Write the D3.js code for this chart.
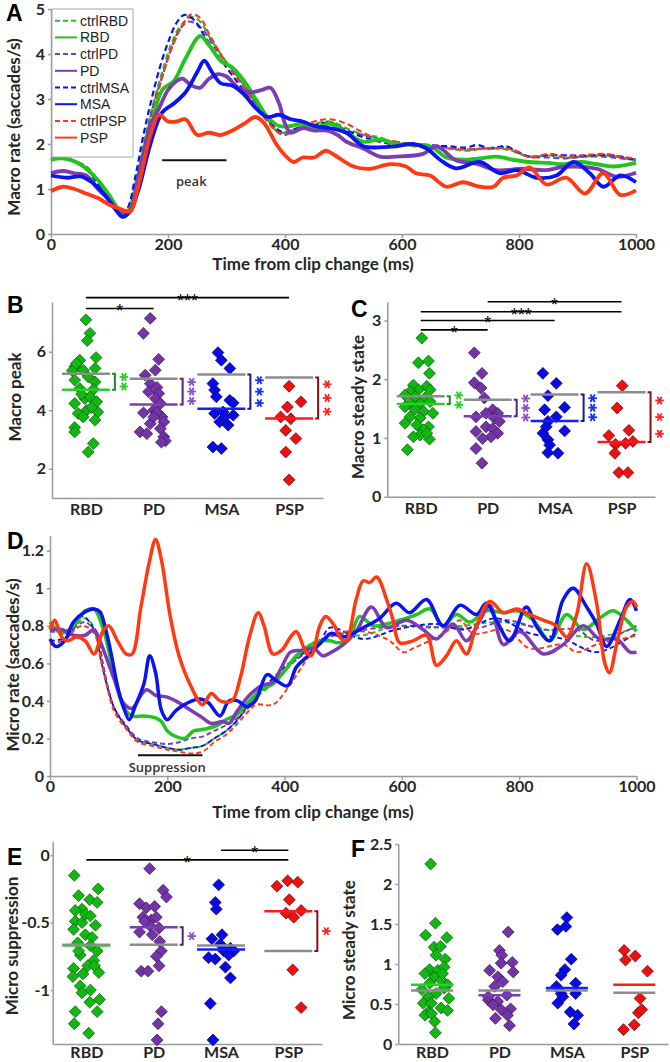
<!DOCTYPE html>
<html>
<head>
<meta charset="UTF-8">
<script src="https://d3js.org/d3.v7.min.js"></script>
<style>
  body { margin: 0; background: #fff; }
  svg { display: block; }
  text { font-family: Lato, 'Open Sans', sans-serif; }
  .tick text { font-weight: bold; font-size: 16px; fill: #262626; }
  .domain, .tick line { stroke: #9a9a9a; stroke-width: 1.5; }
  .atitle { font-weight: bold; font-size: 17px; fill: #262626; }
  .plabel { font-family: 'Liberation Sans', Arial, sans-serif; font-weight: bold; font-size: 23px; fill: #000; }
  .legend text { font-family: 'Liberation Sans', Arial, sans-serif; font-size: 14px; fill: #222; }
  .note { font-family: 'Open Sans', sans-serif; font-weight: 600; font-size: 13px; fill: #333; }
  .sig { font-family: 'Liberation Sans', Arial, sans-serif; font-size: 18px; fill: #000; }
</style>
</head>
<body>
<svg id="fig" width="670" height="1062"></svg>
<script>
// ---------- data ----------
const groups = ['RBD', 'PD', 'MSA', 'PSP']
const timeTicks = [0, 200, 400, 600, 800, 1000]

// panel A: macro rate, [time ms, saccades/s]
const ctrlRBD_A = [[0,1.7],[20,1.72],[40,1.62],[60,1.5],[80,1.2],[100,0.8],[118,0.5],[130,0.55],[145,1.2],[160,2.1],[175,2.9],[190,3.6],[205,4.2],[220,4.6],[240,4.82],[255,4.72],[270,4.4],[290,4.0],[310,3.65],[330,3.3],[350,2.9],[370,2.55],[390,2.25],[410,2.3],[430,2.4],[450,2.45],[477,2.5],[505,2.35],[534,2.2],[562,2.15],[590,2.0],[620,1.98],[648,1.95],[680,1.9],[710,1.85],[740,1.9],[778,1.88],[818,1.72],[850,1.75],[880,1.7],[910,1.72],[944,1.75],[975,1.7],[1000,1.62]]
const ctrlPD_A = [[0,1.65],[20,1.7],[40,1.6],[60,1.45],[80,1.15],[100,0.8],[118,0.45],[130,0.5],[145,1.15],[160,2.0],[175,2.85],[190,3.5],[205,4.1],[220,4.55],[235,4.72],[250,4.65],[265,4.45],[280,4.15],[300,3.8],[320,3.45],[340,3.1],[360,2.75],[380,2.4],[395,2.2],[410,2.25],[430,2.35],[450,2.4],[477,2.45],[505,2.3],[534,2.2],[562,2.1],[590,2.05],[620,2.0],[648,1.98],[680,1.92],[710,1.88],[740,1.9],[778,1.92],[818,1.72],[850,1.7],[880,1.68],[910,1.72],[944,1.72],[975,1.68],[1000,1.65]]
const ctrlMSA_A = [[0,1.65],[20,1.68],[40,1.6],[60,1.45],[80,1.1],[100,0.75],[118,0.45],[130,0.55],[143,1.2],[158,2.2],[172,3.0],[186,3.7],[200,4.25],[215,4.7],[228,4.87],[245,4.75],[260,4.45],[280,4.05],[300,3.7],[320,3.35],[340,3.0],[360,2.7],[380,2.4],[400,2.25],[420,2.35],[440,2.4],[460,2.45],[477,2.48],[505,2.3],[534,2.15],[562,2.05],[590,1.98],[620,1.97],[648,1.95],[680,1.95],[710,1.92],[728,1.98],[750,1.9],[778,1.95],[800,1.8],[818,1.72],[850,1.75],[876,1.75],[910,1.74],[944,1.76],[975,1.72],[1000,1.64]]
const ctrlPSP_A = [[0,1.78],[20,1.75],[40,1.62],[60,1.5],[80,1.2],[100,0.8],[120,0.5],[135,0.6],[150,1.3],[165,2.2],[180,3.0],[195,3.7],[210,4.25],[225,4.65],[240,4.88],[255,4.8],[270,4.45],[290,4.0],[310,3.6],[330,3.25],[350,2.85],[370,2.5],[390,2.25],[410,2.25],[430,2.4],[450,2.5],[477,2.55],[505,2.45],[534,2.25],[562,2.1],[590,2.05],[620,1.95],[648,1.93],[680,1.9],[710,1.88],[740,1.9],[778,1.9],[800,1.82],[818,1.7],[850,1.78],[880,1.72],[910,1.75],[944,1.78],[975,1.72],[1000,1.67]]
const RBD_A = [[0,1.65],[20,1.68],[50,1.55],[80,1.2],[100,0.85],[120,0.5],[135,0.55],[150,1.2],[170,2.3],[190,3.2],[210,3.4],[230,3.9],[255,4.4],[270,4.2],[290,3.85],[310,3.7],[330,3.4],[350,3.0],[370,2.6],[390,2.4],[410,2.4],[430,2.45],[450,2.35],[477,2.45],[505,2.25],[534,2.05],[562,2.1],[590,2.0],[648,1.95],[676,1.7],[704,1.65],[733,1.68],[761,1.72],[790,1.65],[818,1.6],[850,1.58],[876,1.55],[905,1.6],[933,1.55],[961,1.5],[1000,1.58]]
const PD_A = [[0,1.35],[20,1.4],[40,1.35],[60,1.3],[80,1.0],[100,0.75],[120,0.45],[135,0.5],[150,1.3],[170,2.4],[185,2.8],[200,3.2],[215,3.4],[225,3.45],[240,3.3],[255,3.25],[270,3.45],[285,3.55],[300,3.5],[320,3.25],[340,3.15],[360,3.2],[375,3.25],[390,2.9],[400,2.45],[410,2.25],[430,2.35],[450,2.3],[470,2.3],[490,2.2],[505,2.05],[534,1.9],[562,1.72],[590,1.72],[636,1.78],[659,1.95],[692,1.64],[728,1.56],[761,1.42],[806,1.45],[847,1.42],[876,1.49],[933,1.45],[967,1.27],[1000,1.36]]
const MSA_A = [[0,1.3],[30,1.25],[50,1.28],[70,1.15],[90,0.9],[110,0.55],[122,0.38],[135,0.5],[150,1.0],[170,2.0],[190,2.7],[210,2.9],[230,3.15],[250,3.6],[262,3.85],[275,3.6],[290,3.35],[310,3.3],[330,3.1],[350,2.8],[370,2.6],[390,2.65],[410,2.55],[430,2.5],[450,2.4],[477,2.35],[505,2.25],[534,1.95],[568,1.93],[590,1.95],[619,2.0],[642,1.9],[665,1.65],[692,1.46],[733,1.6],[767,1.35],[796,1.42],[830,1.25],[864,1.3],[893,1.6],[921,1.35],[944,1.05],[973,1.3],[1000,1.15]]
const PSP_A = [[0,0.95],[20,1.05],[40,1.0],[60,0.9],[80,0.8],[100,0.65],[120,0.55],[135,0.5],[150,1.1],[170,2.2],[185,2.65],[200,2.5],[215,2.5],[230,2.55],[250,2.2],[270,2.25],[290,2.2],[310,2.3],[330,2.45],[350,2.6],[365,2.45],[385,2.0],[400,1.75],[415,1.6],[430,1.7],[450,1.7],[470,1.85],[485,1.75],[517,1.5],[545,1.45],[579,1.55],[607,1.5],[624,1.35],[648,1.3],[676,1.05],[704,1.15],[733,1.05],[756,1.05],[773,1.25],[796,1.3],[818,1.48],[847,1.1],[881,1.25],[913,0.9],[944,1.35],[973,0.87],[1000,0.97]]

// panel D: micro rate
const ctrlRBD_D = [[0,0.78],[30,0.76],[60,0.84],[80,0.76],[90,0.6],[100,0.45],[110,0.35],[130,0.26],[150,0.19],[175,0.17],[200,0.15],[220,0.14],[240,0.15],[260,0.16],[280,0.2],[300,0.24],[320,0.3],[340,0.38],[360,0.44],[380,0.49],[400,0.56],[420,0.62],[440,0.67],[460,0.71],[477,0.75],[534,0.75],[590,0.8],[647,0.79],[704,0.8],[761,0.82],[818,0.8],[875,0.76],[932,0.74],[1000,0.79]]
const ctrlPD_D = [[0,0.77],[30,0.77],[60,0.82],[80,0.74],[90,0.6],[100,0.46],[110,0.36],[130,0.27],[150,0.2],[175,0.18],[200,0.17],[220,0.18],[240,0.2],[260,0.21],[280,0.24],[300,0.27],[320,0.31],[340,0.37],[360,0.45],[380,0.5],[400,0.56],[420,0.62],[440,0.66],[460,0.7],[477,0.74],[562,0.79],[619,0.8],[676,0.79],[733,0.79],[778,0.83],[841,0.78],[898,0.78],[932,0.72],[1000,0.8]]
const ctrlMSA_D = [[0,0.72],[30,0.74],[55,0.85],[75,0.78],[88,0.6],[100,0.45],[110,0.36],[130,0.26],[150,0.19],[175,0.17],[200,0.15],[220,0.14],[240,0.15],[260,0.16],[280,0.2],[300,0.24],[320,0.3],[340,0.39],[360,0.46],[380,0.52],[400,0.58],[420,0.63],[440,0.67],[460,0.71],[477,0.79],[534,0.73],[590,0.78],[659,0.81],[704,0.78],[761,0.84],[818,0.76],[875,0.73],[932,0.66],[989,0.74],[1000,0.76]]
const ctrlPSP_D = [[0,0.7],[20,0.72],[55,0.8],[75,0.76],[88,0.6],[100,0.44],[110,0.34],[130,0.25],[150,0.18],[175,0.16],[200,0.14],[220,0.13],[240,0.12],[260,0.13],[280,0.18],[300,0.22],[320,0.28],[340,0.35],[352,0.38],[380,0.38],[408,0.48],[425,0.56],[440,0.63],[460,0.7],[477,0.75],[534,0.77],[579,0.72],[602,0.66],[619,0.68],[647,0.72],[676,0.77],[699,0.83],[721,0.76],[778,0.78],[818,0.68],[875,0.7],[898,0.66],[932,0.7],[989,0.74],[1000,0.75]]
const RBD_D = [[0,0.82],[20,0.76],[40,0.8],[60,0.88],[75,0.89],[90,0.79],[100,0.67],[110,0.53],[125,0.37],[140,0.32],[160,0.32],[180,0.31],[190,0.29],[200,0.24],[215,0.21],[230,0.2],[245,0.24],[265,0.25],[285,0.27],[300,0.3],[320,0.33],[340,0.4],[360,0.46],[380,0.49],[400,0.56],[420,0.64],[440,0.69],[460,0.72],[477,0.72],[494,0.71],[511,0.74],[528,0.85],[551,0.8],[574,0.81],[596,0.83],[625,0.86],[648,0.89],[670,0.8],[693,0.86],[716,0.82],[744,0.88],[773,0.87],[796,0.88],[824,0.83],[852,0.72],[881,0.86],[909,0.78],[937,0.84],[960,0.88],[983,0.83],[1000,0.77]]
const PD_D = [[0,0.78],[20,0.78],[40,0.75],[60,0.75],[75,0.78],[85,0.72],[95,0.64],[110,0.51],[125,0.39],[140,0.36],[155,0.43],[165,0.46],[180,0.43],[200,0.42],[220,0.39],[240,0.35],[260,0.31],[275,0.28],[295,0.29],[305,0.28],[320,0.35],[340,0.43],[360,0.48],[380,0.5],[395,0.58],[410,0.66],[430,0.67],[450,0.68],[465,0.64],[480,0.66],[500,0.7],[522,0.77],[548,0.9],[574,0.79],[608,0.83],[636,0.78],[659,0.73],[687,0.81],[710,0.72],[733,0.83],[750,0.91],[773,0.7],[801,0.77],[841,0.65],[875,0.7],[909,0.8],[937,0.73],[966,0.73],[989,0.66],[1000,0.66]]
const MSA_D = [[0,0.73],[10,0.69],[25,0.72],[40,0.82],[60,0.875],[75,0.89],[85,0.875],[95,0.78],[105,0.64],[115,0.48],[125,0.37],[135,0.3],[145,0.37],[160,0.49],[170,0.64],[180,0.55],[190,0.35],[200,0.3],[215,0.35],[235,0.39],[255,0.41],[270,0.39],[290,0.32],[305,0.4],[320,0.4],[335,0.37],[350,0.4],[370,0.54],[385,0.51],[405,0.48],[420,0.58],[440,0.64],[465,0.72],[480,0.76],[500,0.74],[534,0.79],[562,0.84],[590,0.92],[613,0.87],[642,0.94],[670,0.8],[699,0.91],[727,0.86],[744,0.92],[761,0.83],[784,0.72],[812,0.9],[829,0.8],[852,0.72],[875,0.94],[892,1.0],[915,0.9],[932,0.81],[949,0.69],[972,0.83],[989,0.94],[1000,0.88]]
const PSP_D = [[0,0.78],[8,0.83],[20,0.74],[30,0.72],[45,0.74],[60,0.72],[75,0.65],[90,0.77],[100,0.8],[115,0.72],[130,0.65],[140,0.65],[155,0.9],[170,1.15],[180,1.26],[190,1.15],[205,0.85],[220,0.64],[240,0.48],[260,0.38],[275,0.44],[290,0.4],[310,0.4],[325,0.53],[340,0.74],[355,0.87],[365,0.8],[380,0.65],[395,0.67],[410,0.74],[420,0.77],[435,0.67],[445,0.64],[460,0.8],[470,0.85],[485,0.8],[494,0.74],[505,0.72],[522,0.94],[534,1.04],[545,1.03],[557,1.06],[574,0.94],[585,0.83],[596,0.71],[619,0.72],[642,0.75],[659,0.59],[676,0.64],[693,0.72],[710,0.65],[727,0.8],[750,0.93],[773,0.87],[796,0.89],[818,0.86],[841,0.83],[864,0.8],[881,0.74],[898,0.86],[915,1.13],[932,0.92],[946,0.6],[954,0.55],[966,0.7],[983,0.9],[994,0.93],[1000,0.9]]

// panel B: macro peak per subject (values + horizontal jitter in category steps)
const B_RBD = [7.09,6.63,6.38,5.49,5.71,5.8,5.03,5.37,5.43,5.35,5.14,4.97,4.74,4.71,4.23,4.4,4.46,4.29,3.89,4.0,3.94,3.66,3.41,3.26,2.86,2.57,3.77,5.6,4.55,4.1]
const B_RBD_jit = [0,0.06,0.02,-0.165,-0.09,0.15,-0.165,-0.04,0.135,-0.2,0.035,0.135,-0.09,0.11,-0.165,-0.015,0.06,0.16,-0.115,0.01,0.175,0.135,-0.165,-0.165,0.11,0.035,-0.04,-0.14,-0.065,0.085]
const B_PD = [7.14,6.63,5.74,5.37,5.2,4.91,4.78,4.63,4.57,4.4,4.23,3.91,4.0,3.77,3.94,3.54,3.6,3.26,3.2,3.37,3.09,2.95,2.91,3.77]
const B_PD_jit = [-0.05,-0.15,0.075,0.025,-0.125,-0.05,0.05,-0.075,0.075,0.025,0.1,-0.15,0,0.125,0.05,-0.05,0.15,-0.2,-0.1,0.1,0.15,0.175,0.115,0]
const B_MSA = [5.97,5.71,5.43,4.91,4.69,4.46,4.34,4.25,3.89,3.94,3.83,3.6,3.49,2.74,2.69,3.77]
const B_MSA_jit = [-0.05,0,0.125,-0.125,-0.1,-0.075,0.125,0.175,-0.1,0.025,0.175,-0.025,0.1,-0.125,0,0.05]
const B_PSP = [4.82,4.29,4.11,3.77,3.71,3.31,3.03,2.57,1.62]
const B_PSP_jit = [0,0.175,-0.025,-0.125,0.025,-0.05,0.1,-0.05,0]
const B_mean = [4.7, 4.2, 4.05, 3.72]
const B_ctrl = [5.25, 5.08, 5.22, 5.12]
const B_stars = [2, 3, 3, 3]
const B_sig = [['RBD', 'PD', 7.48, '*'], ['RBD', 'PSP', 7.85, '***']]

// panel C: macro steady state
const C_RBD = [2.7,2.28,2.31,2.1,1.9,1.88,1.82,1.79,1.82,1.73,1.7,1.68,1.59,1.59,1.62,1.53,1.49,1.45,1.42,1.36,1.34,1.25,1.22,1.19,1.14,1.05,1.02,0.98,0.8,1.08]
const C_RBD_jit = [0.015,-0.035,0.115,0.13,-0.11,0.09,-0.035,-0.16,0.14,-0.235,-0.085,0.065,-0.16,-0.01,0.14,-0.235,-0.085,0.04,0.18,-0.16,-0.01,-0.235,-0.06,0.115,0.04,-0.01,-0.11,0.13,-0.2,0.09]
const C_PD = [2.45,2.1,1.94,1.85,1.68,1.48,1.42,1.42,1.36,1.34,1.28,1.19,1.16,1.11,1.08,1.02,0.99,0.82,0.57]
const C_PD_jit = [-0.2,-0.085,-0.2,-0.1,-0.05,0.075,0.15,-0.025,-0.175,0.1,0.175,-0.025,0.075,-0.175,0.15,0.05,-0.075,-0.175,-0.085]
const C_MSA = [2.1,1.93,1.72,1.48,1.52,1.36,1.28,1.08,0.97,1.12,0.88,0.75,0.74,1.19]
const C_MSA_jit = [-0.175,0.025,-0.1,-0.15,0.15,0.025,-0.1,-0.175,-0.1,0.15,-0.075,-0.1,0.05,-0.125]
const C_PSP = [1.89,1.51,1.13,1.04,0.94,0.89,0.91,0.74,0.41,0.41]
const C_PSP_jit = [0.01,-0.065,0.11,-0.19,0.17,-0.09,0.06,-0.1,-0.04,0.095]
const C_mean = [1.58, 1.37, 1.29, 0.93]
const C_ctrl = [1.71, 1.65, 1.74, 1.78]
const C_stars = [2, 3, 3, 3]
const C_sig = [['RBD', 'PD', 2.84, '*'], ['RBD', 'MSA', 3.0, '*'], ['RBD', 'PSP', 3.15, '***'], ['PD', 'PSP', 3.32, '*']]

// panel E: micro suppression
const E_RBD = [-0.15,-0.3,-0.25,-0.33,-0.4,-0.41,-0.35,-0.44,-0.45,-0.49,-0.5,-0.52,-0.55,-0.59,-0.61,-0.65,-0.67,-0.74,-0.71,-0.78,-0.82,-0.84,-0.87,-0.88,-0.9,-0.97,-1.0,-1.02,-1.07,-1.09,-1.16,-1.16,-1.25,-1.32,-0.71,-0.82]
const E_RBD_jit = [-0.18,-0.115,0.175,0.05,-0.065,-0.165,0.16,-0.015,0.06,-0.165,-0.065,0.135,-0.19,-0.015,0.085,-0.13,0.06,-0.09,0.16,0.11,0.02,-0.19,0.185,-0.05,-0.2,-0.09,0.06,-0.065,0.195,0.05,0.16,-0.165,-0.18,0.035,-0.115,0.12]
const E_PD = [-0.1,-0.26,-0.31,-0.36,-0.39,-0.38,-0.46,-0.48,-0.46,-0.54,-0.52,-0.57,-0.59,-0.49,-0.64,-0.71,-0.75,-0.82,-0.86,-0.86,-1.16,-1.25,-1.37]
const E_PD_jit = [-0.06,0.14,0.19,-0.21,-0.11,0.015,-0.16,-0.035,0.04,0.08,-0.06,-0.21,-0.02,-0.135,0.09,0.115,0.04,0.08,-0.185,-0.085,0.115,0.065,0.05]
const E_MSA = [-0.22,-0.35,-0.4,-0.62,-0.59,-0.66,-0.71,-0.69,-0.71,-0.76,-0.77,-0.74,-0.83,-0.91,-1.1,-1.37]
const E_MSA_jit = [-0.035,-0.085,-0.07,-0.135,0.015,-0.01,0.04,0.14,0.19,-0.185,-0.085,0.115,0.065,0.14,-0.16,-0.12]
const E_PSP = [-0.23,-0.19,-0.2,-0.33,-0.43,-0.46,-0.41,-0.85,-1.13]
const E_PSP_jit = [-0.17,-0.01,0.14,0.015,-0.035,0.08,0.19,0.065,0.19]
const E_mean = [-0.67, -0.535, -0.70, -0.415]
const E_ctrl = [-0.665, -0.665, -0.67, -0.71]
const E_stars = [0, 1, 0, 1]
const E_sig = [['RBD', 'PSP', -0.035, '*'], ['MSA', 'PSP', 0.037, '*']]

// panel F: micro steady state
const F_RBD = [2.25,1.51,1.36,1.33,1.21,1.22,1.11,1.06,0.93,0.92,0.96,0.88,0.84,0.8,0.76,0.74,0.68,0.63,0.59,0.57,0.51,0.51,0.45,0.42,0.4,0.36,0.38,0.28,0.14,0.88,0.7]
const F_RBD_jit = [-0.02,0.05,-0.095,0.22,0.03,0.125,0.06,0.195,-0.035,0.085,0.18,-0.105,0.04,0.135,-0.035,0.23,-0.15,0.06,-0.055,0.25,-0.13,-0.01,0.135,0.23,-0.055,-0.105,-0.01,0.04,0.05,0.155,0.18]
const F_PD = [1.4,1.17,1.11,1.02,1.01,0.92,0.9,0.84,0.78,0.72,0.61,0.55,0.53,0.49,0.44,0.43,0.36,0.32,0.23,0.59]
const F_PD_jit = [0.13,0,0.035,0.19,0.025,-0.145,0.205,-0.025,0.05,-0.07,0.11,-0.165,-0.025,-0.095,0.165,0.025,0.12,-0.06,0.15,-0.165]
const F_MSA = [1.58,1.43,1.47,1.06,0.93,0.86,0.72,0.76,0.63,0.63,0.51,0.4,0.36,0.25,0.59]
const F_MSA_jit = [0,-0.14,-0.015,0.065,-0.03,-0.085,-0.155,0.13,-0.085,0.13,-0.135,0.05,0.16,0.105,-0.06]
const F_PSP = [1.17,1.05,1.1,0.91,0.57,0.39,0.43,0.24,0.18]
const F_PSP_jit = [-0.15,-0.13,0.015,0.195,0.085,0.06,0.11,0,-0.16]
const F_mean = [0.74, 0.61, 0.70, 0.74]
const F_ctrl = [0.67, 0.67, 0.67, 0.64]
const F_stars = [0, 0, 0, 0]
const F_sig = []

// ---------- colours ----------
const lineColor = { RBD: '#22c41e', PD: '#7a3db5', MSA: '#0a14f0', PSP: '#ff3a12' }
const dotFill = { RBD: '#12b812', PD: '#7334a8', MSA: '#0a0ae6', PSP: '#ee1010' }
const dotStroke = { RBD: '#0a5a0a', PD: '#3a1a58', MSA: '#05056e', PSP: '#6e0808' }
const meanColor = { RBD: '#2ad02a', PD: '#7a3db5', MSA: '#1020ff', PSP: '#ff1a1a' }
const bracketColor = { RBD: '#1f8a1f', PD: '#4a2a78', MSA: '#1a1a88', PSP: '#8a1010' }
const starColor = { RBD: '#25d025', PD: '#8a50c8', MSA: '#1030ff', PSP: '#ff2020' }
const ctrlGray = '#8c8c8c'

const svg = d3.select('#fig')

function rotTitle(x, y, txt) {
    svg.append('text').attr('class', 'atitle')
        .attr('transform', `translate(${x},${y}) rotate(-90)`)
        .attr('text-anchor', 'middle').text(txt)
}
function panelLabel(x, y, txt) {
    svg.append('text').attr('class', 'plabel').attr('x', x).attr('y', y).text(txt)
}

// ---------- time-course panels ----------
function timePanel(p) {
    const x = d3.scaleLinear().domain([0, 1000]).range(p.xRange)
    const y = d3.scaleLinear().domain(p.yDomain).range(p.yRange)
    const g = svg.append('g')

    g.append('g').attr('transform', `translate(0,${p.yRange[0]})`)
        .call(d3.axisBottom(x).tickValues(timeTicks).tickFormat(d3.format('d'))
            .tickSize(4).tickSizeOuter(0).tickPadding(1))
    g.append('g').attr('transform', `translate(${p.xRange[0]},0)`)
        .call(d3.axisLeft(y).tickValues(p.yTicks).tickFormat(d => String(d)).tickSize(3).tickSizeOuter(0).tickPadding(3))

    const line = d3.line().x(d => x(d[0])).y(d => y(d[1])).curve(d3.curveCatmullRom.alpha(0.5))
    groups.forEach(k => {
        g.append('path').datum(p.ctrl[k]).attr('d', line)
            .attr('fill', 'none').attr('stroke', lineColor[k])
            .attr('stroke-width', p.dashW).attr('stroke-dasharray', p.dash)
    })
    groups.forEach(k => {
        g.append('path').datum(p.pat[k]).attr('d', line)
            .attr('fill', 'none').attr('stroke', lineColor[k])
            .attr('stroke-width', p.solidW).attr('stroke-linejoin', 'round')
    })

    // window annotation
    const a = p.note
    g.append('line').attr('x1', x(a.from)).attr('x2', x(a.to))
        .attr('y1', y(a.v)).attr('y2', y(a.v)).attr('stroke', '#111').attr('stroke-width', 2)
    g.append('text').attr('class', 'note').attr('text-anchor', 'middle')
        .attr('x', x((a.from + a.to) / 2) - 3).attr('y', y(a.v) + a.dy).text(a.label)

    svg.append('text').attr('class', 'atitle').attr('text-anchor', 'middle')
        .attr('x', 313).attr('y', p.xTitleY).text('Time from clip change (ms)')
    return { x, y }
}

timePanel({
    xRange: [51, 636], yDomain: [0, 5], yRange: [234, 9], yTicks: [0, 1, 2, 3, 4, 5],
    ctrl: { RBD: ctrlRBD_A, PD: ctrlPD_A, MSA: ctrlMSA_A, PSP: ctrlPSP_A },
    pat: { RBD: RBD_A, PD: PD_A, MSA: MSA_A, PSP: PSP_A },
    solidW: 3.8, dashW: 2.2, dash: '6,3.5',
    note: { from: 190, to: 300, v: 1.64, label: 'peak', dy: 26 },
    xTitleY: 270
})
timePanel({
    xRange: [50, 636.5], yDomain: [0, 1.28], yRange: [776, 535.7], yTicks: [0, 0.2, 0.4, 0.6, 0.8, 1, 1.2],
    ctrl: { RBD: ctrlRBD_D, PD: ctrlPD_D, MSA: ctrlMSA_D, PSP: ctrlPSP_D },
    pat: { RBD: RBD_D, PD: PD_D, MSA: MSA_D, PSP: PSP_D },
    solidW: 3.5, dashW: 1.9, dash: '5,3',
    note: { from: 150, to: 260, v: 0.11, label: 'Suppression', dy: 17 },
    xTitleY: 818
})

// legend of panel A
const legendItems = []
groups.forEach(k => { legendItems.push(['ctrl' + k, k, true]); legendItems.push([k, k, false]) })
const lg = svg.append('g').attr('class', 'legend')
lg.append('rect').attr('x', 52).attr('y', 9).attr('width', 81).attr('height', 148)
    .attr('fill', '#fff').attr('stroke', '#a8a8a8').attr('stroke-width', 1)
legendItems.forEach((d, i) => {
    const yy = 20.7 + i * 16.7
    lg.append('line').attr('x1', 55).attr('x2', 77).attr('y1', yy).attr('y2', yy)
        .attr('stroke', lineColor[d[1]]).attr('stroke-width', 2)
        .attr('stroke-dasharray', d[2] ? '5,3' : null)
    lg.append('text').attr('x', 80).attr('y', yy + 5).text(d[0])
})

// ---------- per-subject panels ----------
const diamond = d3.symbol(d3.symbolSquare, 70)
function star(g, cx, cy, color) {
    const r = 4.3
    ;[0, 60, 120].forEach(a => {
        const dx = r * Math.cos(a * Math.PI / 180), dy = r * Math.sin(a * Math.PI / 180)
        g.append('line').attr('x1', cx - dx).attr('x2', cx + dx).attr('y1', cy - dy).attr('y2', cy + dy)
            .attr('stroke', color).attr('stroke-width', 1.8)
    })
}

function subjectPanel(p) {
    const x = d3.scalePoint().domain(groups).range(p.xRange).padding(0.5)
    const y = d3.scaleLinear().domain(p.yDomain).range(p.yRange)
    const step = x.step()
    const g = svg.append('g')

    g.append('g').attr('transform', `translate(0,${p.yRange[0]})`)
        .call(d3.axisBottom(x).tickSize(0).tickPadding(p.labPad))
    g.append('g').attr('transform', `translate(${p.xRange[0]},0)`)
        .call(d3.axisLeft(y).tickValues(p.yTicks).tickFormat(d => String(d))
            .tickSize(p.ytSize || 3).tickSizeOuter(0).tickPadding(p.ytPad || 3))

    groups.forEach((k, gi) => {
        const pts = p.vals[gi].map((v, i) => ({ v, j: p.jit[gi][i] }))
        g.append('g').selectAll('path').data(pts).join('path')
            .attr('d', diamond)
            .attr('transform', d => `translate(${x(k) + d.j * step},${y(d.v)}) rotate(45)`)
            .attr('fill', dotFill[k]).attr('stroke', dotStroke[k]).attr('stroke-width', 0.7)
    })

    groups.forEach((k, gi) => {
        const x1 = x(k) - p.hw, x2 = x(k) + p.hw
        g.append('line').attr('x1', x1).attr('x2', x2).attr('y1', y(p.mean[gi])).attr('y2', y(p.mean[gi]))
            .attr('stroke', meanColor[k]).attr('stroke-width', 2.5)
        g.append('line').attr('x1', x1).attr('x2', x2).attr('y1', y(p.ctrl[gi])).attr('y2', y(p.ctrl[gi]))
            .attr('stroke', ctrlGray).attr('stroke-width', 2.5)

        const n = p.stars[gi]
        if (!n) return
        const bx = x2 + 5
        const ya = y(p.ctrl[gi]), yb = y(p.mean[gi])
        g.append('path')
            .attr('d', `M${bx - 3},${ya}H${bx}V${yb}H${bx - 3}`)
            .attr('fill', 'none').attr('stroke', bracketColor[k]).attr('stroke-width', 2)
        const mid = (ya + yb) / 2
        const sp = Math.max(Math.abs(yb - ya) / n, 9.5)
        for (let i = 0; i < n; i++) {
            star(g, bx + 9, mid + (i - (n - 1) / 2) * sp, starColor[k])
        }
    })

    p.sig.forEach(s => {
        const yy = y(s[2])
        g.append('line').attr('x1', x(s[0])).attr('x2', x(s[1])).attr('y1', yy).attr('y2', yy)
            .attr('stroke', '#000').attr('stroke-width', 1.6)
        g.append('text').attr('class', 'sig').attr('text-anchor', 'middle')
            .attr('x', (x(s[0]) + x(s[1])) / 2).attr('y', yy + 9).text(s[3])
    })
}

subjectPanel({
    xRange: [52, 323], yDomain: [1, 7.7], yRange: [498, 302], yTicks: [2, 4, 6], hw: 24, labPad: 6,
    vals: [B_RBD, B_PD, B_MSA, B_PSP], jit: [B_RBD_jit, B_PD_jit, B_MSA_jit, B_PSP_jit],
    mean: B_mean, ctrl: B_ctrl, stars: B_stars, sig: B_sig
})
subjectPanel({
    xRange: [387.3, 655], yDomain: [0, 3.32], yRange: [496.7, 301.7], yTicks: [0, 1, 2, 3], hw: 24, labPad: 6,
    vals: [C_RBD, C_PD, C_MSA, C_PSP], jit: [C_RBD_jit, C_PD_jit, C_MSA_jit, C_PSP_jit],
    mean: C_mean, ctrl: C_ctrl, stars: C_stars, sig: C_sig
})
subjectPanel({
    xRange: [52.7, 322], yDomain: [-1.4, 0.1], yRange: [1044, 841.7], yTicks: [-1, -0.5, 0], hw: 24, labPad: 3,
    ytSize: 2, ytPad: 1,
    vals: [E_RBD, E_PD, E_MSA, E_PSP], jit: [E_RBD_jit, E_PD_jit, E_MSA_jit, E_PSP_jit],
    mean: E_mean, ctrl: E_ctrl, stars: E_stars, sig: E_sig
})
subjectPanel({
    xRange: [398.3, 668], yDomain: [0, 2.5], yRange: [1044, 844], yTicks: [0, 0.5, 1, 1.5, 2, 2.5], hw: 21, labPad: 3,
    vals: [F_RBD, F_PD, F_MSA, F_PSP], jit: [F_RBD_jit, F_PD_jit, F_MSA_jit, F_PSP_jit],
    mean: F_mean, ctrl: F_ctrl, stars: F_stars, sig: F_sig
})

// axis titles and panel letters
rotTitle(20, 127, 'Macro rate (saccades/s)')
rotTitle(21, 397, 'Macro peak')
rotTitle(364, 407, 'Macro steady state')
rotTitle(19, 665, 'Micro rate (saccades/s)')
rotTitle(18, 946, 'Micro suppression')
rotTitle(355, 950, 'Micro steady state')

panelLabel(6, 21, 'A')
panelLabel(7, 313, 'B')
panelLabel(351, 317, 'C')
panelLabel(7, 549, 'D')
panelLabel(7, 865, 'E')
panelLabel(351, 857, 'F')
</script>
</body>
</html>
